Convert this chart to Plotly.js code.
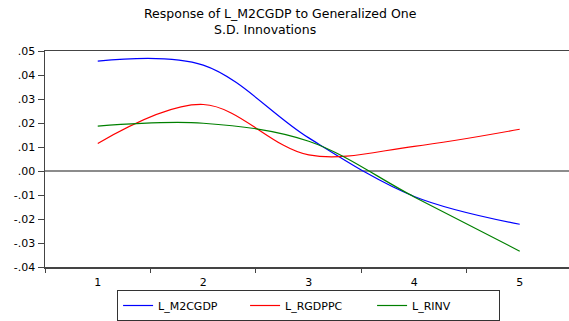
<!DOCTYPE html>
<html>
<head>
<meta charset="utf-8">
<script src="https://cdn.plot.ly/plotly-3.0.1.min.js"></script>
<style>html,body{margin:0;padding:0;background:#fff;}</style>
</head>
<body>
<div id="chart" style="width:569px;height:321px;"></div>
<script>
// Data
var periods = [1, 2, 3, 4, 5];
var periodLabels = ["1", "2", "3", "4", "5"];
var l_m2cgdp = [0.0458, 0.0441, 0.0138, -0.0106, -0.0222];
var l_rgdppc = [0.0115, 0.0277, 0.0067, 0.0103, 0.0174];
var l_rinv   = [0.0187, 0.0199, 0.0124, -0.0108, -0.0334];
var yTickVals = [0.05, 0.04, 0.03, 0.02, 0.01, 0.00, -0.01, -0.02, -0.03, -0.04];
var yTickText = [".05", ".04", ".03", ".02", ".01", ".00", "-.01", "-.02", "-.03", "-.04"];
var xMinorTicks = [0.5, 1.5, 2.5, 3.5, 4.5, 5.5];
var titleLines = ["Response of L_M2CGDP to Generalized One", "S.D. Innovations"];

var FONT = "DejaVu Sans, Liberation Sans, Arial, sans-serif";

function series(name, y, color) {
  return {
    x: periods, y: y, name: name, type: "scatter", mode: "lines",
    line: {color: color, width: 1.2, shape: "spline", smoothing: 1},
    hoverinfo: "skip"
  };
}

var data = [
  series("L_M2CGDP", l_m2cgdp, "#0000ff"),
  series("L_RGDPPC", l_rgdppc, "#ff0000"),
  series("L_RINV", l_rinv, "#008000")
];

var layout = {
  width: 569, height: 321,
  margin: {l: 45, r: 0, t: 51, b: 51, pad: 0},
  paper_bgcolor: "#ffffff", plot_bgcolor: "#ffffff",
  font: {family: FONT, size: 11, color: "#000"},
  showlegend: true,
  legend: {
    orientation: "h", x: 0.503, xanchor: "center", y: -0.18, yanchor: "middle",
    bordercolor: "#333", borderwidth: 1, font: {family: FONT, size: 11, color: "#000"},
    entrywidth: 82, itemwidth: 30, tracegroupgap: 0
  },
  xaxis: {
    range: [0.5, 5.467], fixedrange: true,
    tickmode: "array", tickvals: periods, ticktext: periodLabels,
    ticks: "", showgrid: false, zeroline: false, ticklabelstandoff: 4,
    showline: true, linecolor: "#444", linewidth: 1.5, mirror: true,
    tickfont: {family: FONT, size: 11, color: "#000"},
    minor: {tickmode: "array", tickvals: xMinorTicks, ticks: "outside", ticklen: 4, tickcolor: "#444", tickwidth: 1, showgrid: false}
  },
  yaxis: {
    range: [-0.04, 0.05], fixedrange: true,
    tickmode: "array", tickvals: yTickVals, ticktext: yTickText,
    ticks: "outside", ticklen: 6, tickcolor: "#444", tickwidth: 1,
    showgrid: false,
    zeroline: true, zerolinecolor: "#8c8c8c", zerolinewidth: 1.5,
    showline: true, linecolor: "#444", linewidth: 1.5,
    tickfont: {family: FONT, size: 11, color: "#000"}
  },
  annotations: [
    {text: titleLines[0], xref: "paper", yref: "paper", x: 0.4485, y: 1.175, xanchor: "center", yanchor: "middle", showarrow: false, borderpad: 0, font: {family: FONT, size: 12.5, color: "#000"}},
    {text: titleLines[1], xref: "paper", yref: "paper", x: 0.42, y: 1.10, xanchor: "center", yanchor: "middle", showarrow: false, borderpad: 0, font: {family: FONT, size: 12.5, color: "#000"}}
  ]
};

Plotly.newPlot("chart", data, layout, {staticPlot: true, displayModeBar: false});
</script>
</body>
</html>
